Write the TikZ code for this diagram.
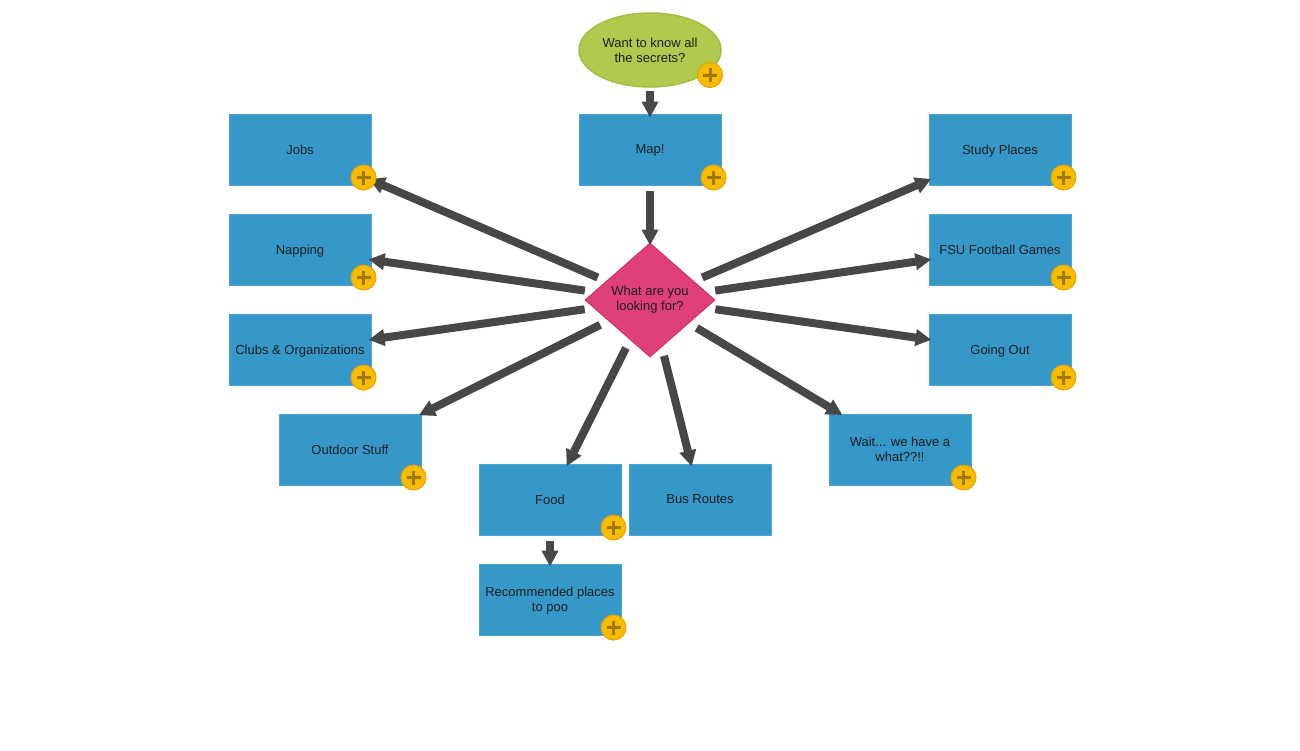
\documentclass[tikz,border=0pt]{standalone}
\usepackage{fontspec}
\setmainfont{Liberation Sans}
\usetikzlibrary{shapes.geometric,arrows.meta,calc}
\definecolor{boxblue}{HTML}{3598C9}
\definecolor{boxline}{HTML}{4BA4D2}
\definecolor{dmfill}{HTML}{E0407A}
\definecolor{dmline}{HTML}{C93368}
\definecolor{elfill}{HTML}{B1C94F}
\definecolor{elline}{HTML}{A2BD3F}
\definecolor{arrgray}{HTML}{474747}
\definecolor{plusfill}{HTML}{F7BC00}
\definecolor{plusline}{HTML}{E8A400}
\definecolor{pluscross}{HTML}{9E7800}
\definecolor{txt}{HTML}{1E1E1E}
\tikzset{
  every node/.style={text=txt,font=\fontsize{13}{15}\selectfont,align=center},
  bluebox/.style={rectangle,fill=boxblue,draw=boxline,line width=1pt,minimum width=142pt,minimum height=71pt,inner sep=0pt,text depth=0pt},
  decision/.style={diamond,fill=dmfill,draw=dmline,line width=1pt,minimum width=130pt,minimum height=114pt,inner sep=0pt},
  startell/.style={ellipse,fill=elfill,draw=elline,line width=1.5pt,minimum width=142pt,minimum height=74pt,inner sep=0pt},
  arr/.style={draw=arrgray,line width=8pt,-{Triangle[width=16pt,length=16pt]},arrgray},
  fromdm/.style={arr,shorten <=9pt,shorten >=-3pt},
  plusicon/.pic={
    \fill[plusfill,draw=plusline,line width=1pt] (0,0) circle (12.5);
    \draw[pluscross,line width=3pt] (-7,0) -- (7,0) (0,-7) -- (0,7);
  }
}
\begin{document}
\begin{tikzpicture}[x=1pt,y=-1pt]
\useasboundingbox (0,0) rectangle (1300,750);
\node[startell] (start) at (650,50) {Want to know all\\the secrets?};
\node[bluebox] (map) at (650,149.5) {Map!};
\node[decision] (dm) at (650,300) {What are you\\looking for?};
\node[bluebox] (jobs) at (300,149.5) {Jobs};
\node[bluebox] (nap) at (300,249.5) {Napping};
\node[bluebox] (clubs) at (300,349.5) {Clubs \& Organizations};
\node[bluebox] (out) at (350,449.5) {Outdoor Stuff};
\node[bluebox] (food) at (550,499.5) {Food};
\node[bluebox] (bus) at (700,499.5) {Bus Routes};
\node[bluebox] (poo) at (550,599.5) {Recommended places\\to poo};
\node[bluebox] (study) at (1000,149.5) {Study Places};
\node[bluebox] (fsu) at (1000,249.5) {FSU Football Games};
\node[bluebox] (going) at (1000,349.5) {Going Out};
\node[bluebox] (wait) at (900,449.5) {Wait... we have a\\what??!!};
% connectors
\draw[arr,shorten <=3pt,shorten >=-4pt] (start) -- (map);
\draw[arr,shorten <=5pt,shorten >=-3pt] (map) -- (dm);
\draw[fromdm] (dm) -- (jobs);
\draw[fromdm] (dm) -- (nap);
\draw[fromdm] (dm) -- (clubs);
\draw[fromdm] (dm) -- (out);
\draw[fromdm] (dm) -- (food);
\draw[fromdm] (dm) -- (bus);
\draw[fromdm] (dm) -- (study);
\draw[fromdm] (dm) -- (fsu);
\draw[fromdm] (dm) -- (going);
\draw[fromdm] (dm) -- (wait);
\draw[arr,shorten <=5pt,shorten >=-3pt] (food) -- (poo);
% plus icons
\pic at ($(start.center)+(60,25)$) {plusicon};
\foreach \n in {map,jobs,nap,clubs,out,food,poo,study,fsu,going,wait}
  \pic at ($(\n.south east)+(-8,-8)$) {plusicon};
\end{tikzpicture}
\end{document}
